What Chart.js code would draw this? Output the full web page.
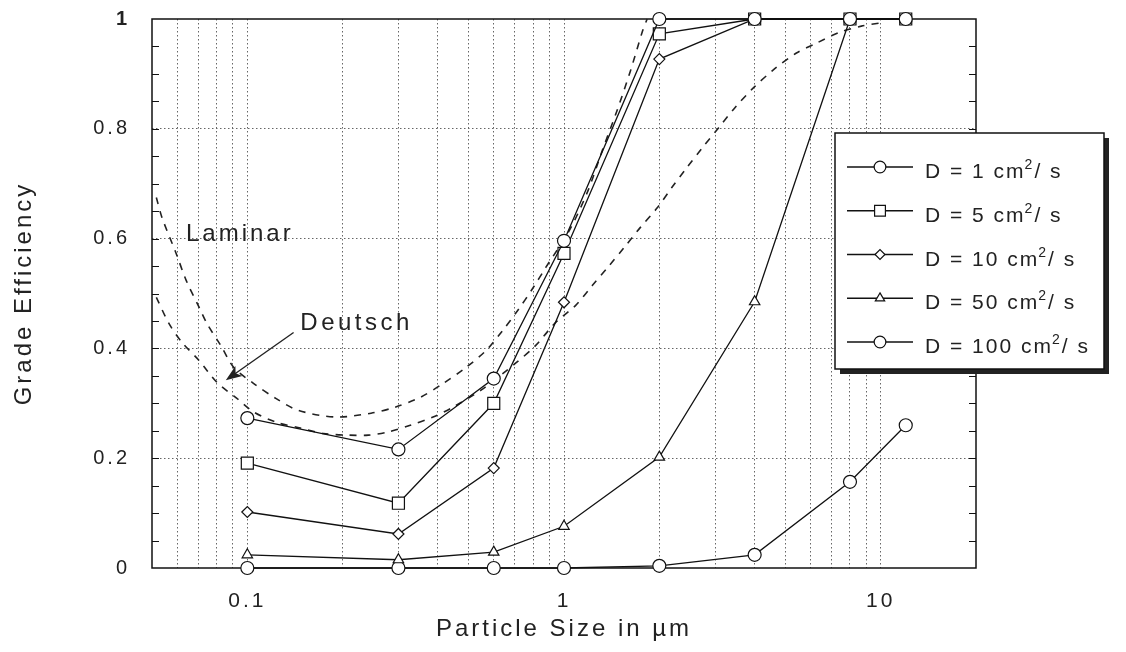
<!DOCTYPE html>
<html>
<head>
<meta charset="utf-8">
<script src="https://cdn.jsdelivr.net/npm/chart.js@4.4.1/dist/chart.umd.min.js"></script>
<style>
  html, body { margin: 0; padding: 0; background: #fff; }
  #chart { display: block; }
</style>
</head>
<body>
<canvas id="chart" width="1126" height="652"></canvas>
<script>
const FONT = '"Liberation Sans", Arial, Helvetica, sans-serif';

// measured points (particle size in um)
const sizes = [0.1, 0.3, 0.6, 1, 2, 4, 8, 12];
const effD1 = [0.273, 0.216, 0.345, 0.596, 1.0, 1.0, 1.0, 1.0];
const effD5 = [0.191, 0.118, 0.300, 0.573, 0.973, 1.0, 1.0, 1.0];
const effD10 = [0.102, 0.062, 0.182, 0.484, 0.927, 1.0, 1.0, 1.0];
const effD50 = [0.024, 0.015, 0.029, 0.076, 0.202, 0.485, 1.0, null];
const effD100 = [0.0, 0.0, 0.0, 0.0, 0.004, 0.024, 0.157, 0.26];
const diffusivities = [1, 5, 10, 50, 100];

// model curves
const laminarSize = [0.0516, 0.0538, 0.0596, 0.0641, 0.0704, 0.0746, 0.0825, 0.0907, 0.1048, 0.123, 0.145, 0.19, 0.246, 0.293, 0.352, 0.415, 0.487, 0.567, 0.641, 0.714, 0.796, 0.875, 1.04, 1.19, 1.32, 1.47, 1.62, 1.77, 1.83];
const laminarEff = [0.675, 0.638, 0.573, 0.524, 0.475, 0.445, 0.405, 0.365, 0.336, 0.309, 0.287, 0.275, 0.282, 0.293, 0.311, 0.336, 0.364, 0.396, 0.433, 0.469, 0.509, 0.547, 0.615, 0.687, 0.76, 0.833, 0.905, 0.978, 1.0];
const deutschSize = [0.0516, 0.0566, 0.0622, 0.0704, 0.0802, 0.0927, 0.1048, 0.124, 0.147, 0.174, 0.209, 0.241, 0.275, 0.327, 0.386, 0.446, 0.55, 0.703, 0.813, 0.94, 1.087, 1.23, 1.39, 1.55, 1.74, 1.97, 2.19, 2.44, 2.73, 3.08, 3.46, 3.97, 4.62, 5.42, 6.27, 7.35, 8.69, 10];
const deutschEff = [0.493, 0.445, 0.411, 0.378, 0.338, 0.309, 0.284, 0.265, 0.255, 0.245, 0.242, 0.242, 0.247, 0.26, 0.275, 0.293, 0.325, 0.373, 0.405, 0.447, 0.478, 0.515, 0.551, 0.584, 0.62, 0.656, 0.693, 0.729, 0.765, 0.802, 0.838, 0.875, 0.909, 0.938, 0.956, 0.975, 0.987, 0.993];

const xGridValues = [0.05, 0.06, 0.07, 0.08, 0.09, 0.1, 0.2, 0.3, 0.4, 0.5, 0.6, 0.7, 0.8, 0.9, 1, 2, 3, 4, 5, 6, 7, 8, 9, 10, 20];
const xLabelValues = [0.1, 1, 10];
const yLabelValues = [0, 0.2, 0.4, 0.6, 0.8, 1];

const effSeries = [effD1, effD5, effD10, effD50, effD100];
const markerStyles = ['circle', 'rect', 'rectRot', 'triangle', 'circle'];
const markerRadius = [6.5, 8.5, 5.5, 6, 6.5];

function toPoints(xs, ys) {
  return xs.map((x, i) => ({ x: x, y: ys[i] }));
}

const seriesSets = effSeries.map((eff, i) => ({
  label: 'D = ' + diffusivities[i] + ' cm\u00b2/ s',
  data: toPoints(sizes, eff),
  showLine: true,
  borderColor: '#111',
  borderWidth: 1.3,
  backgroundColor: '#fff',
  pointStyle: markerStyles[i],
  pointRadius: markerRadius[i],
  pointBorderWidth: 1.2,
  pointBorderColor: '#111',
  pointBackgroundColor: '#fff',
  clip: false,
  inLegend: true
}));

const curveSets = [
  { label: 'Laminar', data: toPoints(laminarSize, laminarEff) },
  { label: 'Deutsch', data: toPoints(deutschSize, deutschEff) }
].map(c => Object.assign(c, {
  showLine: true,
  borderColor: '#222',
  borderWidth: 1.6,
  borderDash: [7, 7],
  pointRadius: 0,
  tension: 0.3,
  clip: false
}));

function drawArrow(ctx, x0, y0, x1, y1) {
  const ang = Math.atan2(y1 - y0, x1 - x0);
  ctx.beginPath();
  ctx.moveTo(x0, y0);
  ctx.lineTo(x1 - Math.cos(ang) * 10, y1 - Math.sin(ang) * 10);
  ctx.stroke();
  ctx.beginPath();
  ctx.moveTo(x1, y1);
  ctx.lineTo(x1 - Math.cos(ang) * 16 + Math.sin(ang) * 6, y1 - Math.sin(ang) * 16 - Math.cos(ang) * 6);
  ctx.lineTo(x1 - Math.cos(ang) * 12, y1 - Math.sin(ang) * 12);
  ctx.lineTo(x1 - Math.cos(ang) * 16 - Math.sin(ang) * 6, y1 - Math.sin(ang) * 16 + Math.cos(ang) * 6);
  ctx.closePath();
  ctx.fill();
}

const decorations = {
  id: 'decorations',
  beforeUpdate(chart) { chart.ctx.letterSpacing = '3px'; },
  beforeDraw(chart) { chart.ctx.letterSpacing = '3px'; },
  beforeDatasetsDraw(chart) {
    const { ctx, chartArea: a, scales: { y } } = chart;
    ctx.save();
    ctx.strokeStyle = '#111';
    ctx.lineWidth = 1.5;
    ctx.strokeRect(a.left, a.top, a.right - a.left, a.bottom - a.top);
    ctx.lineWidth = 1.2;
    ctx.beginPath();
    for (let i = 1; i < 20; i++) {
      const py = Math.round(y.getPixelForValue(i / 20)) + 0.5;
      ctx.moveTo(a.left, py); ctx.lineTo(a.left + 7, py);
      ctx.moveTo(a.right, py); ctx.lineTo(a.right - 7, py);
    }
    ctx.stroke();
    ctx.restore();
  },
  afterDatasetsDraw(chart) {
    const { ctx, scales: { x, y } } = chart;
    ctx.save();
    ctx.fillStyle = '#222';
    ctx.strokeStyle = '#222';
    ctx.font = '24px ' + FONT;
    ctx.letterSpacing = '3px';
    ctx.textBaseline = 'alphabetic';
    ctx.fillText('Laminar', x.getPixelForValue(0.064), y.getPixelForValue(0.595));
    ctx.letterSpacing = '3.5px';
    ctx.fillText('Deutsch', x.getPixelForValue(0.147), y.getPixelForValue(0.433));
    ctx.lineWidth = 1.4;
    drawArrow(ctx, x.getPixelForValue(0.14), y.getPixelForValue(0.429),
      x.getPixelForValue(0.0855), y.getPixelForValue(0.342));
    ctx.restore();
  },
  afterDraw(chart) {
    const ctx = chart.ctx;
    const bx = 835, by = 133, bw = 269, bh = 236;
    ctx.save();
    ctx.fillStyle = '#222';
    ctx.fillRect(bx + 5, by + 5, bw, bh);
    ctx.fillStyle = '#fff';
    ctx.fillRect(bx, by, bw, bh);
    ctx.strokeStyle = '#111';
    ctx.lineWidth = 1.5;
    ctx.strokeRect(bx, by, bw, bh);
    const items = chart.data.datasets.filter(d => d.inLegend);
    items.forEach((ds, i) => {
      const ly = by + 34 + i * 43.75;
      ctx.strokeStyle = '#111';
      ctx.lineWidth = 1.3;
      ctx.beginPath();
      ctx.moveTo(bx + 12, ly); ctx.lineTo(bx + 78, ly);
      ctx.stroke();
      ctx.fillStyle = '#fff';
      ctx.lineWidth = 1.2;
      Chart.helpers.drawPoint(ctx, { pointStyle: ds.pointStyle, radius: ds.pointRadius * 0.9, borderWidth: 1.2, rotation: 0 }, bx + 45, ly);
      let tx = bx + 90;
      const ty = ly + 11;
      ctx.fillStyle = '#222';
      ctx.letterSpacing = '2px';
      ctx.font = '21px ' + FONT;
      const head = 'D = ' + diffusivities[i] + ' cm';
      ctx.fillText(head, tx, ty);
      tx += ctx.measureText(head).width;
      ctx.font = '14px ' + FONT;
      ctx.fillText('2', tx - 1, ty - 9);
      tx += ctx.measureText('2').width;
      ctx.font = '21px ' + FONT;
      ctx.fillText('/ s', tx - 1, ty);
    });
    ctx.restore();
  }
};

const chart = new Chart(document.getElementById('chart'), {
  type: 'scatter',
  data: { datasets: seriesSets.concat(curveSets) },
  plugins: [decorations],
  options: {
    responsive: false,
    animation: false,
    events: [],
    layout: { padding: { left: 0, top: 19, right: 150, bottom: 0 } },
    plugins: { legend: { display: false }, tooltip: { enabled: false } },
    scales: {
      x: {
        type: 'logarithmic',
        min: 0.05,
        max: 20,
        afterBuildTicks: (scale) => { scale.ticks = xGridValues.map(v => ({ value: v })); },
        afterFit: (scale) => { scale.height = 84; scale.paddingLeft = 0; scale.paddingRight = 0; },
        grid: {
          drawTicks: false,
          color: (c) => (c.tick && (c.tick.value > 10.5 || c.tick.value < 0.055)) ? 'rgba(0,0,0,0)' : '#666',
          lineWidth: 1
        },
        border: { display: false, dash: [1.5, 2.5] },
        ticks: {
          autoSkip: false,
          maxRotation: 0,
          padding: 21,
          color: '#222',
          font: { family: FONT, size: 21 },
          callback: (v) => xLabelValues.includes(v) ? String(v) : ''
        },
        title: {
          display: true,
          text: 'Particle Size in \u00b5m',
          color: '#222',
          font: { family: FONT, size: 24 },
          padding: { top: 0, bottom: 8 }
        }
      },
      y: {
        min: 0,
        max: 1,
        afterBuildTicks: (scale) => { scale.ticks = yLabelValues.map(v => ({ value: v })); },
        afterFit: (scale) => { scale.width = 152; scale.paddingTop = 0; scale.paddingBottom = 0; },
        grid: {
          drawTicks: false,
          color: (c) => (c.tick && (c.tick.value === 0 || c.tick.value === 1)) ? 'rgba(0,0,0,0)' : '#666',
          lineWidth: 1
        },
        border: { display: false, dash: [1.5, 2.5] },
        ticks: {
          padding: 22,
          color: '#222',
          font: (c) => ({ family: FONT, size: 20, weight: (c.tick && c.tick.value === 1) ? 'bold' : 'normal' }),
          callback: (v) => String(v)
        },
        title: {
          display: true,
          text: 'Grade Efficiency',
          color: '#222',
          font: { family: FONT, size: 24 },
          padding: { top: 10, bottom: 0 }
        }
      }
    }
  }
});
</script>
</body>
</html>
